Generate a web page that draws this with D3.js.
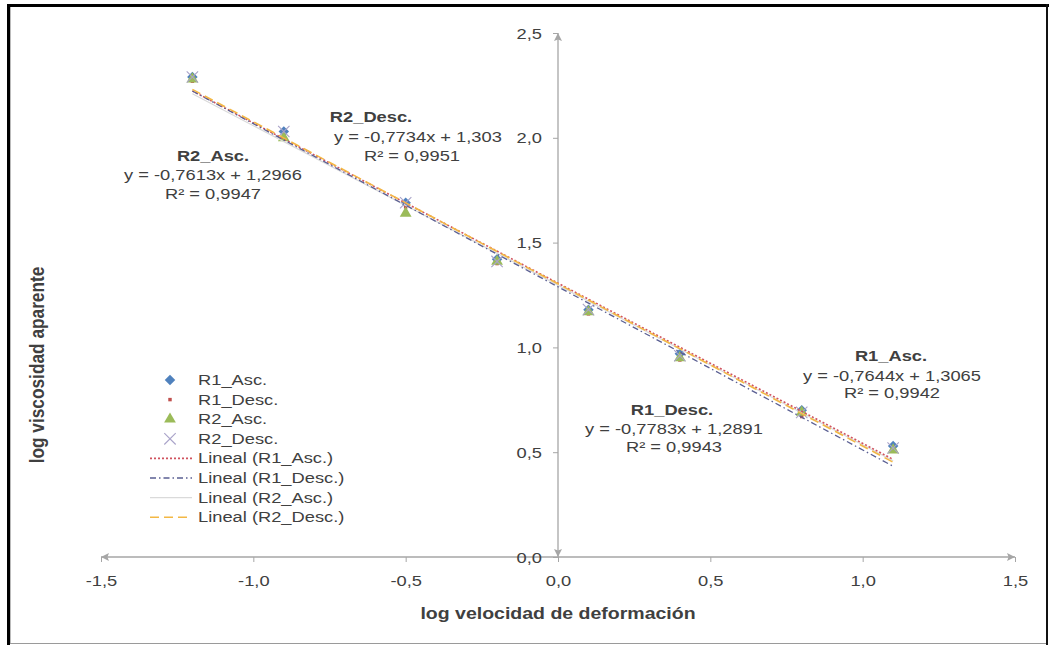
<!DOCTYPE html>
<html>
<head>
<meta charset="utf-8">
<script src="https://cdn.jsdelivr.net/npm/d3@7"></script>
<style>
  html, body { margin: 0; padding: 0; background: #fff; }
  svg { display: block; }
  text { font-family: "Liberation Sans", Arial, sans-serif; fill: #404040; }
</style>
</head>
<body>
<svg id="chart" width="1049" height="645"></svg>
<script>
// Shear-rate steps (log scale) shared by every run
const logShearRate = [-1.2, -0.9, -0.5, -0.2, 0.1, 0.4, 0.8, 1.1];

// log apparent viscosity per run
const r1Asc  = [2.29, 2.03, 1.69, 1.42, 1.18, 0.97, 0.70, 0.53];
const r1Desc = [2.27, 2.00, 1.67, 1.40, 1.16, 0.94, 0.67, 0.51];
const r2Asc  = [2.28, 2.00, 1.64, 1.41, 1.17, 0.95, 0.69, 0.51];
const r2Desc = [2.29, 2.03, 1.69, 1.41, 1.18, 0.96, 0.69, 0.52];

const seriesNames = ["R1_Asc.", "R1_Desc.", "R2_Asc.", "R2_Desc."];

// Linear fits for each run
const slopes     = [-0.7644, -0.7783, -0.7613, -0.7734];
const intercepts = [1.3065, 1.2891, 1.2966, 1.303];
const rSquared   = [0.9942, 0.9943, 0.9947, 0.9951];

const xTicks = [-1.5, -1.0, -0.5, 0.0, 0.5, 1.0, 1.5];
const yTicks = [0.0, 0.5, 1.0, 1.5, 2.0, 2.5];

const xTitle = "log velocidad de deformación";
const yTitle = "log viscosidad aparente";

// ---------------------------------------------------------------
const svg = d3.select("#chart");
const SX = 1.22;           // horizontal text stretch
const AXIS = "#a6a6a6";

const x = d3.scaleLinear().domain([-1.5, 1.5]).range([101, 1015]);
const y = d3.scaleLinear().domain([0, 2.5]).range([557, 33]);

// Spanish number style: decimal comma, plain hyphen minus
const es = d3.formatLocale({ decimal: ",", thousands: ".", grouping: [3], currency: ["", ""], minus: "-" });
const fmt1 = es.format(".1f");
const comma = v => String(v).replace(".", ",");

function label(g, txt, px, py, opts = {}) {
  return g.append("text")
    .attr("transform", `translate(${px},${py}) scale(${SX},1)`)
    .attr("text-anchor", opts.anchor || "middle")
    .style("font-size", (opts.size || 15) + "px")
    .style("font-weight", opts.bold ? "bold" : "normal")
    .text(txt);
}

// Frame
svg.append("line").attr("x1", 8.5).attr("x2", 8.5).attr("y1", 4).attr("y2", 645)
  .attr("stroke", "#000").attr("stroke-width", 3);
svg.append("line").attr("x1", 7).attr("x2", 1049).attr("y1", 5.5).attr("y2", 5.5)
  .attr("stroke", "#000").attr("stroke-width", 3);
svg.append("line").attr("x1", 1047).attr("x2", 1047).attr("y1", 4).attr("y2", 645)
  .attr("stroke", "#111").attr("stroke-width", 2);
svg.append("line").attr("x1", 10).attr("x2", 1046).attr("y1", 643.5).attr("y2", 643.5)
  .attr("stroke", "#9a9a9a").attr("stroke-width", 1);
svg.append("line").attr("x1", 10.5).attr("x2", 10.5).attr("y1", 7).attr("y2", 643)
  .attr("stroke", "#bbb").attr("stroke-width", 1);

// Arrowheads for the axis lines
const defs = svg.append("defs");
defs.append("marker")
  .attr("id", "arrow")
  .attr("viewBox", "0 0 10 10")
  .attr("refX", 10).attr("refY", 5)
  .attr("markerWidth", 10).attr("markerHeight", 8)
  .attr("markerUnits", "userSpaceOnUse")
  .attr("orient", "auto-start-reverse")
  .append("path").attr("d", "M0,0 L10,5 L0,10 L2,5 Z").attr("fill", AXIS);

// X axis (crosses at y = 0)
const xAxis = d3.axisBottom(x).tickValues(xTicks).tickSize(5).tickPadding(12).tickFormat(fmt1);
const gx = svg.append("g").attr("transform", `translate(0,${y(0)})`).call(xAxis);
gx.select(".domain").remove();
gx.selectAll(".tick line").attr("stroke", AXIS);
gx.selectAll(".tick text").each(function () {
  const t = d3.select(this);
  const ty = +t.attr("y");
  t.attr("y", null).attr("dy", null)
   .attr("transform", `translate(0,${ty + 12}) scale(${SX},1)`)
   .style("font-size", "15px").attr("font-family", null).attr("fill", null);
});
svg.append("line")
  .attr("x1", x(-1.5)).attr("x2", x(1.5)).attr("y1", y(0)).attr("y2", y(0))
  .attr("stroke", AXIS).attr("stroke-width", 1.3)
  .attr("marker-start", "url(#arrow)").attr("marker-end", "url(#arrow)");

// Y axis (crosses at x = 0)
const yAxis = d3.axisLeft(y).tickValues(yTicks).tickSize(5).tickPadding(11).tickFormat(fmt1);
const gy = svg.append("g").attr("transform", `translate(${x(0)},0)`).call(yAxis);
gy.select(".domain").remove();
gy.selectAll(".tick line").attr("stroke", AXIS);
gy.selectAll(".tick text").each(function () {
  const t = d3.select(this);
  const tx = +t.attr("x");
  t.attr("x", null).attr("dy", null)
   .attr("transform", `translate(${tx},5) scale(${SX},1)`)
   .style("font-size", "15px").attr("font-family", null).attr("fill", null);
});
svg.append("line")
  .attr("x1", x(0)).attr("x2", x(0)).attr("y1", y(2.5)).attr("y2", y(0))
  .attr("stroke", AXIS).attr("stroke-width", 1.3)
  .attr("marker-start", "url(#arrow)").attr("marker-end", "url(#arrow)");

// Axis titles
label(svg, xTitle, 558, 619, { bold: true, size: 16 });
svg.append("text")
  .attr("transform", `translate(44,365) rotate(-90) scale(1.08,${SX})`)
  .attr("text-anchor", "middle")
  .style("font-size", "16px").style("font-weight", "bold")
  .text(yTitle);

// Marker shapes
const xShape = {
  draw(ctx, size) {
    const r = Math.sqrt(size) / 2;
    ctx.moveTo(-r, -r); ctx.lineTo(r, r);
    ctx.moveTo(r, -r); ctx.lineTo(-r, r);
  }
};
const diamondShape = {
  draw(ctx, size) {
    const r = Math.sqrt(size) / 2;
    ctx.moveTo(0, -r); ctx.lineTo(r, 0); ctx.lineTo(0, r); ctx.lineTo(-r, 0); ctx.closePath();
  }
};
const markerStyles = [
  { type: diamondShape, size: 110, fill: "#4f81bd", stroke: "none" },
  { type: d3.symbolSquare, size: 12, fill: "#c0504d", stroke: "none" },
  { type: d3.symbolTriangle, size: 60, fill: "#9bbb59", stroke: "none" },
  { type: xShape, size: 130, fill: "none", stroke: "#a9a3c9" }
];
const trendStyles = [
  { stroke: "#d0525e", width: 1.6, dash: "2,2" },
  { stroke: "#5a5f93", width: 1.3, dash: "6,3,1.5,3" },
  { stroke: "#dadada", width: 1.2, dash: null },
  { stroke: "#f3b845", width: 1.6, dash: "9,5" }
];

const allSeries = [r1Asc, r1Desc, r2Asc, r2Desc];

// Data markers
allSeries.forEach((vals, i) => {
  const st = markerStyles[i];
  svg.append("g").selectAll("path")
    .data(vals.map((v, j) => [logShearRate[j], v]))
    .join("path")
    .attr("transform", d => `translate(${x(d[0])},${y(d[1])})`)
    .attr("d", d3.symbol().type(st.type).size(st.size))
    .attr("fill", st.fill)
    .attr("stroke", st.stroke)
    .attr("stroke-width", 1.1);
});

// Linear trendlines
const xMin = d3.min(logShearRate), xMax = d3.max(logShearRate);
const line = d3.line().x(d => x(d[0])).y(d => y(d[1]));
[2, 0, 1, 3].forEach(i => {
  const st = trendStyles[i];
  svg.append("path")
    .datum([xMin, xMax].map(v => [v, slopes[i] * v + intercepts[i]]))
    .attr("d", line)
    .attr("fill", "none")
    .attr("stroke", st.stroke)
    .attr("stroke-width", st.width)
    .attr("stroke-dasharray", st.dash);
});

// Fit equations
const eqPos = [
  { name: [891, 361], eq: [892, 381], r2: [892, 398] },
  { name: [672, 415], eq: [674, 434], r2: [674, 452] },
  { name: [213, 161], eq: [213, 180], r2: [213, 199] },
  { name: [371, 122], eq: [418, 142], r2: [412, 161] }
];
seriesNames.forEach((nm, i) => {
  const p = eqPos[i];
  const g = svg.append("g");
  label(g, nm, p.name[0], p.name[1], { bold: true });
  label(g, `y = ${comma(slopes[i])}x + ${comma(intercepts[i])}`, p.eq[0], p.eq[1]);
  label(g, `R² = ${comma(rSquared[i])}`, p.r2[0], p.r2[1]);
});

// Legend
const legend = svg.append("g");
const rowH = 19.6, row0 = 380, symX = 170, txtX = 198;
seriesNames.forEach((nm, i) => {
  const st = markerStyles[i];
  const ry = row0 + i * rowH;
  legend.append("path")
    .attr("transform", `translate(${symX},${ry})`)
    .attr("d", d3.symbol().type(st.type).size(st.size))
    .attr("fill", st.fill).attr("stroke", st.stroke).attr("stroke-width", 1.1);
  label(legend, nm, txtX, ry + 5, { anchor: "start" });
});
seriesNames.forEach((nm, i) => {
  const st = trendStyles[i];
  const ry = row0 + (i + 4) * rowH;
  legend.append("line")
    .attr("x1", 150).attr("x2", 192).attr("y1", ry).attr("y2", ry)
    .attr("stroke", st.stroke).attr("stroke-width", st.width)
    .attr("stroke-dasharray", st.dash);
  label(legend, `Lineal (${nm})`, txtX, ry + 5, { anchor: "start" });
});
</script>
</body>
</html>
